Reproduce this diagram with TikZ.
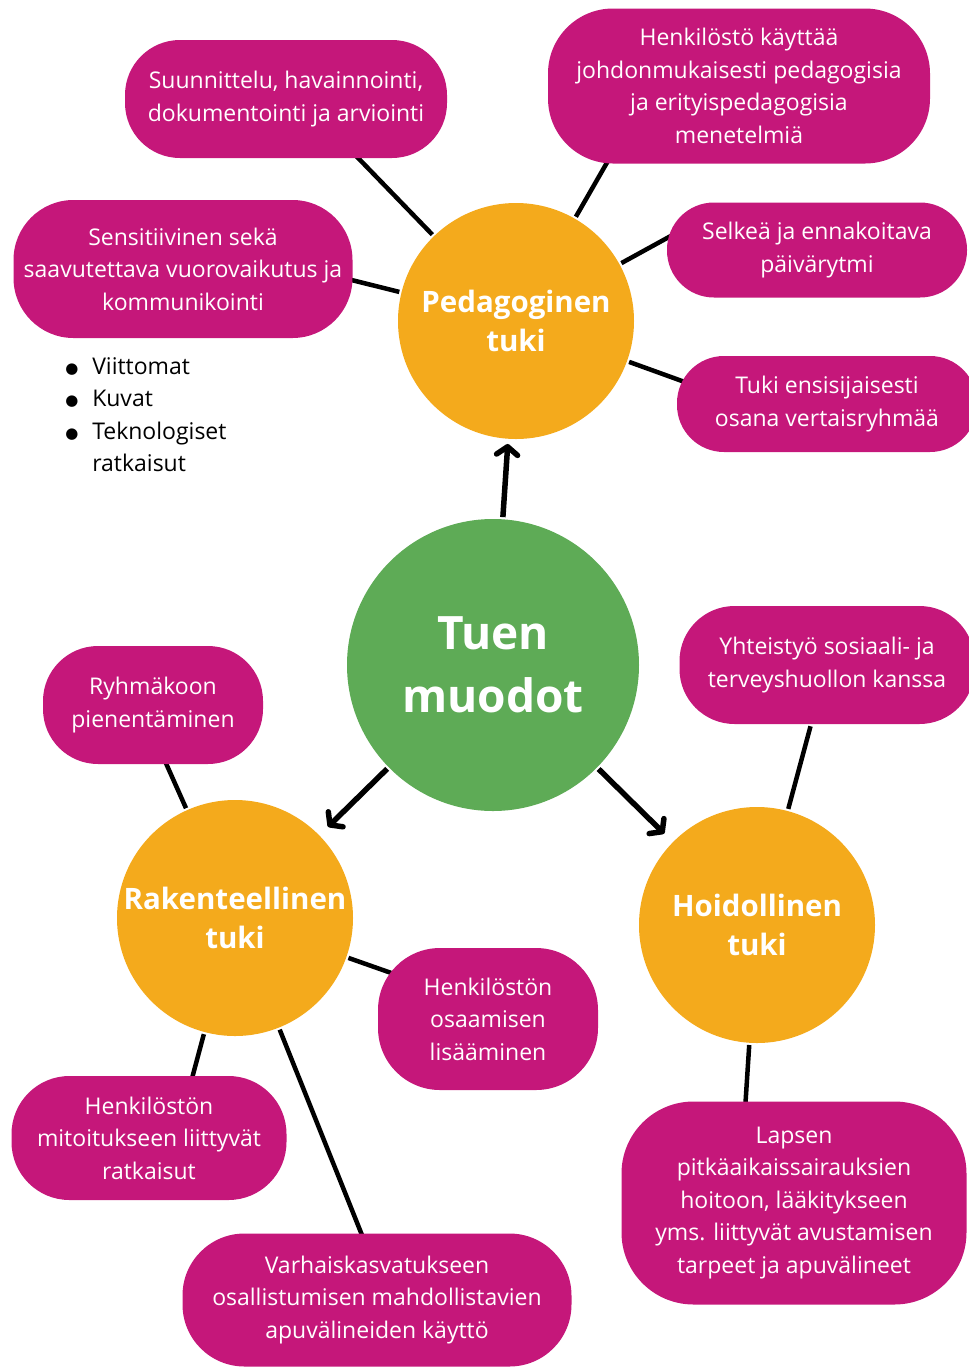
\documentclass[tikz,border=0pt]{standalone}
\usepackage{fontspec}
\setmainfont{Open Sans}
\newfontfamily\symfont{DejaVu Sans}
\usetikzlibrary{arrows.meta,backgrounds}
\definecolor{pinkbox}{HTML}{C5177A}
\definecolor{orangeball}{HTML}{F4AA1C}
\definecolor{greenball}{HTML}{5EAB56}
\newcommand{\bul}{\makebox[27pt][l]{\raisebox{1pt}{\symfont\fontsize{15}{15}\selectfont ●}}}

\begin{document}
\begin{tikzpicture}[x=1pt,y=-1pt,line width=4.5pt,
                    >={Straight Barb[length=8pt,width=21pt,round]}]
  \tikzstyle{pill}=[fill=pinkbox,text=white,align=center,inner sep=0pt,
                    font=\fontsize{23}{32.5}\selectfont]
  \tikzstyle{ball}=[circle,fill=orangeball,inner sep=0pt,minimum size=236pt]
  \tikzstyle{head}=[text=white,align=center,
                    font=\bfseries\fontsize{29.5}{39}\selectfont]
  \tikzstyle{spoke}=[draw=black,line width=4.5pt]
  \tikzstyle{arrow}=[->,line width=5.5pt]

  \useasboundingbox (0,0) rectangle (969,1369);

  \node[ball,fill=greenball,minimum size=292pt,
        label={[head,font=\bfseries\fontsize{46}{63}\selectfont]center:Tuen\\muodot}]
        (TM) at (493,665) {};
  \node[ball,label={[head]center:Pedagoginen\\tuki}]    (PT) at (516,321) {};
  \node[ball,label={[head]center:Rakenteellinen\\tuki}] (RT) at (235,918) {};
  \node[ball,label={[head]center:Hoidollinen\\tuki}]    (HT) at (757,925) {};

  \node[pill,rounded corners=55pt,minimum width=322pt,minimum height=118pt] (SU) at (286,99)
        {Suunnittelu, havainnointi,\\dokumentointi ja arviointi};
  \node[pill,rounded corners=65pt,minimum width=382pt,minimum height=155pt] (HK) at (739,86)
        {Henkilöstö käyttää\\johdonmukaisesti pedagogisia\\ja erityispedagogisia\\menetelmiä};
  \node[pill,rounded corners=60pt,minimum width=339pt,minimum height=138pt] (SE) at (183,269)
        {Sensitiivinen sekä\\saavutettava vuorovaikutus ja\\kommunikointi};
  \node[pill,rounded corners=47pt,minimum width=300pt,minimum height=95pt]  (SP) at (817,250)
        {Selkeä ja ennakoitava\\päivärytmi};
  \node[pill,rounded corners=47pt,minimum width=300pt,minimum height=96pt]  (TE) at (827,404)
        {Tuki ensisijaisesti\\osana vertaisryhmää};
  \node[pill,rounded corners=55pt,minimum width=295pt,minimum height=118pt] (YS) at (827,665)
        {Yhteistyö sosiaali- ja\\terveyshuollon kanssa};
  \node[pill,rounded corners=55pt,minimum width=220pt,minimum height=118pt] (RY) at (153,705)
        {Ryhmäkoon\\pienentäminen};
  \node[pill,rounded corners=62pt,minimum width=220pt,minimum height=142pt] (HO) at (488,1019)
        {Henkilöstön\\osaamisen\\lisääminen};
  \node[pill,rounded corners=58pt,minimum width=275pt,minimum height=124pt] (HM) at (149,1138)
        {Henkilöstön\\mitoitukseen liittyvät\\ratkaisut};
  \node[pill,rounded corners=62pt,minimum width=389pt,minimum height=133pt] (VA) at (377,1300)
        {Varhaiskasvatukseen\\osallistumisen mahdollistavien\\apuvälineiden käyttö};
  \node[pill,rounded corners=72pt,minimum width=345pt,minimum height=203pt] (LA) at (794,1203)
        {Lapsen\\pitkäaikaissairauksien\\hoitoon, lääkitykseen\\yms. liittyvät avustamisen\\tarpeet ja apuvälineet};

  \node[anchor=north west,align=left,inner sep=0pt,text=black,
        font=\fontsize{23}{32.5}\selectfont] (LI) at (63,355)
        {\bul Viittomat\\\bul Kuvat\\\bul Teknologiset\\\hspace*{27pt}ratkaisut};

  \begin{scope}[on background layer]
    \path[spoke] (PT) -- ([xshift=15pt]SU.center)
          (PT) -- ([xshift=-88pt]HK.center)
          (PT) -- ([yshift=31pt]SE.center)
          (PT) -- ([xshift=6pt,yshift=14pt]SP.west)
          (PT) -- ([xshift=10pt,yshift=22pt]TE.west)
          (RT) -- ([xshift=-13pt]RY.center)
          (RT) -- ([yshift=12pt]HO.center)
          (RT) -- ([xshift=27pt]HM.center)
          (RT) -- ([xshift=11pt]VA.center)
          (HT) -- (YS)
          (HT) -- ([xshift=-55pt]LA.center);
  \end{scope}

  \draw[arrow,shorten >=3pt] (TM) -- (PT);
  \draw[arrow,shorten >=10pt] (TM) -- (RT);
  \draw[arrow,shorten >=10pt] (TM) -- (HT);
\end{tikzpicture}
\end{document}
